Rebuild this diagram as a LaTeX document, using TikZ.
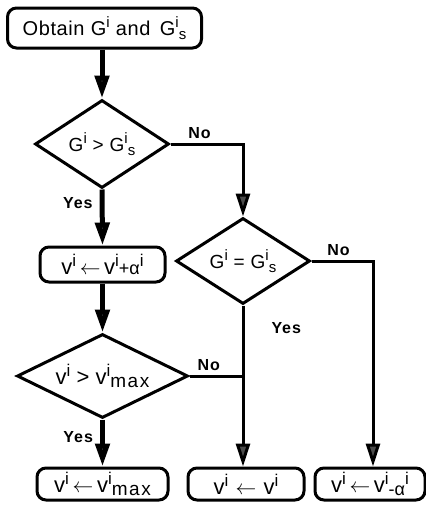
\documentclass[tikz,border=0pt]{standalone}
\usepackage{fontspec}
\setmainfont{Liberation Sans}
\usetikzlibrary{shapes.geometric,arrows.meta}
\newcommand\hi[1]{\raisebox{0.40em}{\fontsize{15}{15}\selectfont #1}}
\newcommand\lo[1]{\raisebox{-0.2em}{\fontsize{15}{15}\selectfont #1}}
\newcommand\vhi[1]{\raisebox{0.36em}{\fontsize{17}{17}\selectfont #1}}
\newcommand\vlo[1]{\raisebox{-0.12em}{\fontsize{19}{19}\selectfont\addfontfeature{LetterSpace=8}#1}}
\newcommand\vmi[1]{\raisebox{0.02em}{\fontsize{18}{18}\selectfont #1}}
\newcommand\vdn[1]{\raisebox{-0.12em}{\fontsize{18}{18}\selectfont #1}}
\newcommand\larr{\,\ensuremath{\leftarrow}\,}
\begin{document}
\begin{tikzpicture}[x=1pt,y=-1pt,
  box/.style={draw,line width=3pt,rounded corners=9pt,inner sep=0pt,font=\fontsize{22}{24}\selectfont},
  dia/.style={draw,diamond,aspect=2,line width=3pt,inner sep=0pt,font=\fontsize{19}{22}\selectfont\addfontfeature{LetterSpace=3}},
  lbl/.style={font=\bfseries\fontsize{16}{18}\selectfont\addfontfeature{LetterSpace=6},inner sep=0pt},
  flow/.style={line width=5pt,-{Triangle[length=23pt,width=14pt,fill=black!70]}},
  flowthin/.style={line width=3pt,-{Triangle[length=23pt,width=14pt,fill=black!70]}},
  link/.style={line width=3pt}
]
\useasboundingbox (0,0) rectangle (426,507);
\node[box,minimum width=194pt,minimum height=40pt,font=\fontsize{20}{22}\selectfont\addfontfeature{LetterSpace=3}] (top) at (104.5,28) {Obtain G\hi{i} and\, G\hi{i}\lo{s}};
\node[dia,minimum width=134pt,minimum height=88pt] (d1) at (102,144) {G\hi{i} > G\hi{i}\lo{s}};
\node[box,minimum width=125pt,minimum height=35pt] (b2) at (102.5,264.5) {v\vhi{i}\larr v\vhi{i}\vmi{+α}\vhi{i}};
\node[dia,minimum width=171pt,minimum height=84pt,font=\fontsize{22}{24}\selectfont] (d3) at (102.5,376) {v\vhi{i} > v\vhi{i}\vlo{max}};
\node[dia,minimum width=134pt,minimum height=86pt] (d2) at (243,261) {G\hi{i} = G\hi{i}\lo{s}};
\node[box,minimum width=131pt,minimum height=32pt] (bl) at (102.5,484) {v\vhi{i}\larr v\vhi{i}\vlo{max}};
\node[box,minimum width=116pt,minimum height=32pt] (bm) at (246,484) {v\vhi{i}\,\larr\,v\vhi{i}};
\node[box,minimum width=110pt,minimum height=32pt] (br) at (370,484) {v\vhi{i}\larr v\vhi{i}\vdn{-α}\vhi{i}};
\coordinate (jn) at (d3.east -| d2.south);
\draw[flow] (d1.north |- top.south) -- (d1.north);
\draw[flow] (d1.south) -- node[lbl,left=7pt,pos=0.25]{Yes} (b2.north);
\draw[flow] (b2.south) -- (d3.north);
\draw[flow] (d3.south) -- node[lbl,left=7pt,pos=0.38]{Yes} (bl.north);
\draw[flowthin] (d1.east) -| node[lbl,pos=0.2,above=4pt]{No} (d2.north);
\draw[flowthin] (d2.east) -| node[lbl,pos=0.22,above=4pt]{No} ([xshift=3pt]br.north);
\draw[flowthin] (d2.south) -- node[lbl,right=27pt,pos=0.14]{Yes} (d2.south |- bm.north);
\draw[link] (d3.east) -- node[lbl,pos=0.36,above=4pt]{No} (jn);
\end{tikzpicture}
\end{document}
